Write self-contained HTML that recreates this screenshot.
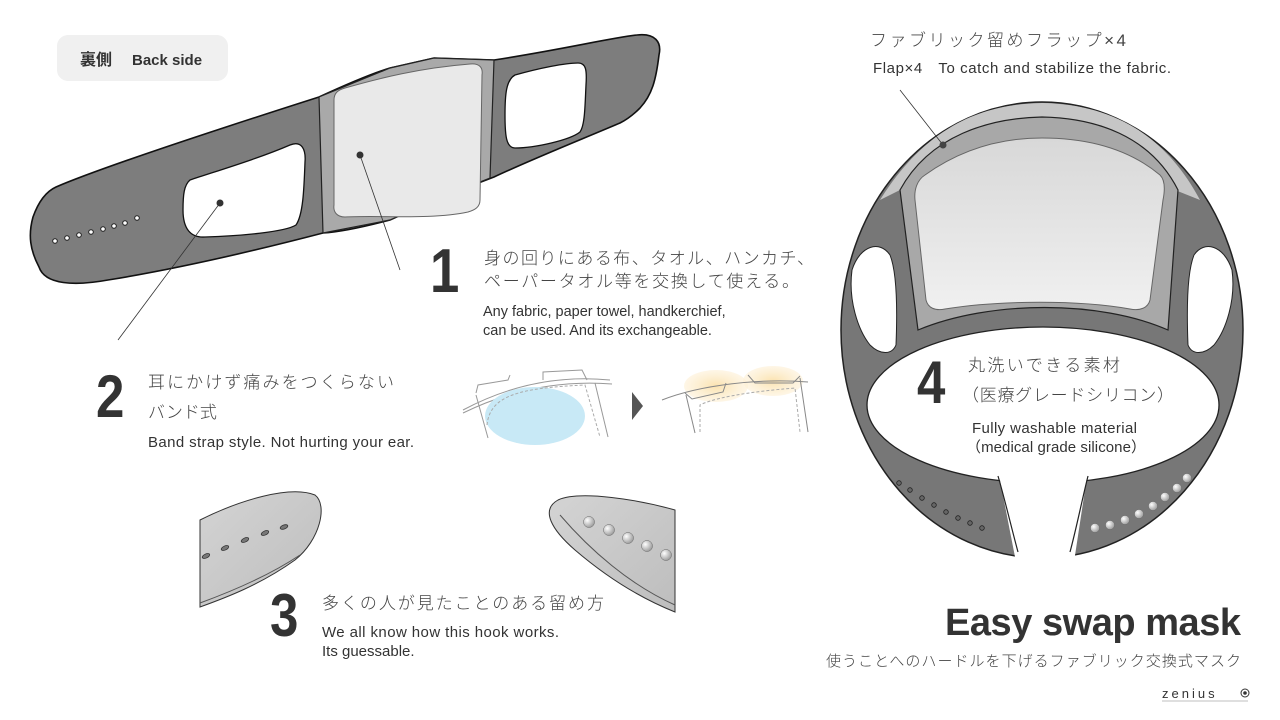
<!DOCTYPE html>
<html><head><meta charset="utf-8"><style>
html,body{margin:0;padding:0;background:#fff;}
svg{display:block;}
text{font-family:"Liberation Sans","Noto Sans CJK JP",sans-serif;fill:#333;}
.jp{font-weight:300;fill:#444;}
.num{font-weight:bold;fill:#333;}
</style></head><body>
<svg width="1280" height="720" viewBox="0 0 1280 720" xmlns="http://www.w3.org/2000/svg">
<defs>
<linearGradient id="fab" x1="0" y1="0" x2="0" y2="1"><stop offset="0" stop-color="#d8d8d8"/><stop offset="1" stop-color="#f0f0f0"/></linearGradient>
<linearGradient id="strap" x1="0" y1="0" x2="1" y2="1"><stop offset="0" stop-color="#d4d4d4"/><stop offset="1" stop-color="#bdbdbd"/></linearGradient>
<radialGradient id="ball" cx="0.35" cy="0.35" r="0.7"><stop offset="0" stop-color="#fff"/><stop offset="1" stop-color="#999"/></radialGradient>
<radialGradient id="yel"><stop offset="0" stop-color="#fbe3b0"/><stop offset="1" stop-color="#fdf0d6" stop-opacity="0.6"/></radialGradient>
</defs>

<!-- Badge -->
<rect x="57" y="35" width="171" height="46" rx="11" fill="#f0f0f0"/>
<text x="80" y="65" font-size="16" font-weight="bold">裏側</text>
<text x="132" y="65" font-size="15" font-weight="bold">Back side</text>

<!-- Flat mask -->
<path d="M56,187 C100,168 200,135 319,97 C345,85 370,74 390,68 L434,58 L494,60 C560,50 610,38 637,35 C655,33 662,42 659,55 C656,80 652,95 640,108 C630,118 622,122 620,123 C580,140 530,160 494,177 L434,200 L390,220 C360,228 340,232 323,233 C250,252 170,270 108,280 C75,286 45,285 39,267 C30,250 28,235 33,217 C38,203 45,192 56,187 Z" fill="#7d7d7d" stroke="#111" stroke-width="1.6"/>
<path d="M319,97 L390,68 L434,58 L494,60 L490,178 L434,200 L390,220 L323,233 Z" fill="#a9a9a9" stroke="#222" stroke-width="1.2"/>
<path d="M345,88 C380,78 420,68 470,64 C480,63 483,68 482,75 L480,200 C480,207 475,210 468,212 C430,220 380,215 345,217 C337,217 333,212 334,205 L334,100 C334,93 338,90 345,88 Z" fill="#e9e9e9" stroke="#666" stroke-width="1"/>
<path d="M190,180 C220,170 260,158 290,145 C302,140 306,150 305,162 C304,190 303,215 296,225 C285,232 240,236 205,237 C190,238 183,228 183,210 C183,195 184,185 190,180 Z" fill="#fff" stroke="#111" stroke-width="1.3"/>
<path d="M515,75 C540,68 565,63 578,63 C586,63 587,70 586,85 C585,105 585,125 580,132 C570,140 535,148 515,148 C506,148 505,135 505,115 C505,95 506,80 515,75 Z" fill="#fff" stroke="#111" stroke-width="1.3"/>
<g fill="#fff" stroke="#222" stroke-width="1">
<circle cx="55" cy="241" r="2.3"/><circle cx="67" cy="238" r="2.3"/><circle cx="79" cy="235" r="2.3"/><circle cx="91" cy="232" r="2.3"/><circle cx="103" cy="229" r="2.3"/><circle cx="114" cy="226" r="2.3"/><circle cx="125" cy="223" r="2.3"/><circle cx="137" cy="218" r="2.3"/>
</g>
<line x1="220" y1="203" x2="118" y2="340" stroke="#333" stroke-width="0.8"/>
<circle cx="220" cy="203" r="3.5" fill="#333"/>
<line x1="360" y1="155" x2="400" y2="270" stroke="#333" stroke-width="0.8"/>
<circle cx="360" cy="155" r="3.5" fill="#333"/>

<!-- Text 1 -->
<text class="num" x="430" y="292" font-size="62" transform="translate(430 0) scale(0.85 1) translate(-430 0)">1</text>
<text class="jp" x="484" y="264" font-size="17" textLength="330">身の回りにある布、タオル、ハンカチ、</text>
<text class="jp" x="484" y="287" font-size="17" textLength="315">ペーパータオル等を交換して使える。</text>
<text x="483" y="316" font-size="14.5" fill="#222">Any fabric, paper towel, handkerchief,</text>
<text x="483" y="335" font-size="14.5" fill="#222">can be used. And its exchangeable.</text>

<!-- Text 2 -->
<text class="num" x="96" y="417" font-size="60" transform="translate(96 0) scale(0.85 1) translate(-96 0)">2</text>
<text class="jp" x="148" y="388" font-size="17" textLength="246">耳にかけず痛みをつくらない</text>
<text class="jp" x="148" y="418" font-size="17">バンド式</text>
<text x="148" y="447" font-size="15" fill="#222" textLength="266">Band strap style. Not hurting your ear.</text>

<!-- Small illustrations -->
<g fill="none" stroke="#999" stroke-width="1">
<path d="M463,410 C510,385 560,375 610,380"/>
<path d="M463,413 C510,390 560,380 612,384"/>
<path d="M476,393 L478,385 L508,380 L510,375"/>
<path d="M543,380 L543,372 L582,370 L587,380"/>
<path d="M476,395 L488,438"/><path d="M595,383 L608,437"/>
</g>
<ellipse cx="535" cy="416" rx="50" ry="29" fill="#c8e9f6"/>
<path d="M487,425 C490,395 520,388 585,385 L600,437" fill="none" stroke="#aaa" stroke-dasharray="3,2"/>
<path d="M632,392 L643,406 L632,420 Z" fill="#555"/>
<ellipse cx="716" cy="386" rx="32" ry="16" fill="url(#yel)"/>
<ellipse cx="773" cy="381" rx="30" ry="15" fill="url(#yel)"/>
<g fill="none" stroke="#888" stroke-width="1">
<path d="M662,400 C700,385 760,378 808,382"/>
<path d="M685,393 L692,399 L723,392 L726,383"/>
<path d="M748,375 L755,383 L793,383 L800,376"/>
<path d="M686,395 L695,433"/><path d="M800,378 L808,432"/>
</g>
<path d="M700,432 L700,405 C720,395 770,390 795,388 L800,432" fill="none" stroke="#aaa" stroke-dasharray="3,2"/>

<!-- Strap ends -->
<path d="M200,520 C240,500 290,485 315,495 C328,505 320,540 295,560 C260,585 225,598 200,607 Z" fill="url(#strap)" stroke="#333" stroke-width="1"/>
<path d="M200,603 C230,592 270,575 300,555" fill="none" stroke="#555" stroke-width="1"/>
<g fill="#777" stroke="#333" stroke-width="0.8">
<ellipse cx="206" cy="556" rx="4" ry="2" transform="rotate(-25 206 556)"/>
<ellipse cx="225" cy="548" rx="4" ry="2" transform="rotate(-25 225 548)"/>
<ellipse cx="245" cy="540" rx="4" ry="2" transform="rotate(-25 245 540)"/>
<ellipse cx="265" cy="533" rx="4" ry="2" transform="rotate(-25 265 533)"/>
<ellipse cx="284" cy="527" rx="4" ry="2" transform="rotate(-20 284 527)"/>
</g>
<path d="M675,510 C640,500 580,490 558,500 C540,510 552,530 575,550 C610,580 645,600 675,612 Z" fill="url(#strap)" stroke="#333" stroke-width="1"/>
<path d="M560,515 C590,550 630,585 675,605" fill="none" stroke="#555" stroke-width="1"/>
<g fill="url(#ball)" stroke="#666" stroke-width="0.5">
<circle cx="589" cy="522" r="5.5"/><circle cx="609" cy="530" r="5.5"/><circle cx="628" cy="538" r="5.5"/><circle cx="647" cy="546" r="5.5"/><circle cx="666" cy="555" r="5.5"/>
</g>

<!-- Text 3 -->
<text class="num" x="270" y="636" font-size="60" transform="translate(270 0) scale(0.85 1) translate(-270 0)">3</text>
<text class="jp" x="322" y="609" font-size="17" textLength="282">多くの人が見たことのある留め方</text>
<text x="322" y="637" font-size="15" fill="#222" textLength="237">We all know how this hook works.</text>
<text x="322" y="656" font-size="15" fill="#222">Its guessable.</text>

<!-- Round mask -->
<ellipse cx="1042" cy="330" rx="201" ry="228" fill="#777" stroke="#222" stroke-width="1.5"/>
<path d="M880,200 C930,120 990,104 1042,103 C1100,104 1160,125 1200,200 L1175,190 C1150,140 1100,125 1042,124 C985,125 935,140 900,190 Z" fill="#c6c6c6"/>
<path d="M900,190 C930,135 990,118 1042,117 C1095,118 1150,135 1178,190 L1168,330 C1100,300 990,300 918,330 Z" fill="#a8a8a8" stroke="#222" stroke-width="1.2"/>
<path d="M925,175 C960,150 1000,138 1042,138 C1090,138 1130,150 1160,175 C1165,180 1165,190 1163,200 L1150,300 C1148,308 1140,311 1130,309 C1080,300 1000,300 945,309 C935,311 928,308 926,300 L915,200 C914,190 917,180 925,175 Z" fill="url(#fab)" stroke="#666" stroke-width="1"/>
<ellipse cx="1043" cy="405" rx="176" ry="78" fill="#fff" stroke="#222" stroke-width="1.3"/>
<path d="M998,470 L1088,470 L1074,562 L1016,562 Z" fill="#fff"/>
<path d="M998,476 C1005,500 1012,530 1018,552" fill="none" stroke="#222" stroke-width="1.2"/>
<path d="M1088,476 C1082,500 1076,530 1070,552" fill="none" stroke="#222" stroke-width="1.2"/>
<path d="M852,270 C860,245 880,240 890,255 C898,275 897,320 896,345 C892,355 880,355 870,345 C858,330 848,300 852,270 Z" fill="#fff" stroke="#222" stroke-width="1"/>
<path d="M1232,270 C1224,245 1204,240 1194,255 C1186,275 1187,320 1188,345 C1192,355 1204,355 1214,345 C1226,330 1236,300 1232,270 Z" fill="#fff" stroke="#222" stroke-width="1"/>
<g fill="#666" stroke="#222" stroke-width="0.8">
<circle cx="899" cy="483" r="2.3"/><circle cx="910" cy="490" r="2.3"/><circle cx="922" cy="498" r="2.3"/><circle cx="934" cy="505" r="2.3"/><circle cx="946" cy="512" r="2.3"/><circle cx="958" cy="518" r="2.3"/><circle cx="970" cy="523" r="2.3"/><circle cx="982" cy="528" r="2.3"/>
</g>
<g fill="url(#ball)" stroke="#666" stroke-width="0.4">
<circle cx="1095" cy="528" r="4.5"/><circle cx="1110" cy="525" r="4.5"/><circle cx="1125" cy="520" r="4.5"/><circle cx="1139" cy="514" r="4.5"/><circle cx="1153" cy="506" r="4.5"/><circle cx="1165" cy="497" r="4.5"/><circle cx="1177" cy="488" r="4.5"/><circle cx="1187" cy="478" r="4.5"/>
</g>
<line x1="900" y1="90" x2="943" y2="145" stroke="#333" stroke-width="0.8"/>
<circle cx="943" cy="145" r="3.5" fill="#444"/>

<!-- Text 4 -->
<text class="num" x="917" y="403" font-size="60" transform="translate(917 0) scale(0.85 1) translate(-917 0)">4</text>
<text class="jp" x="968" y="371" font-size="17" textLength="152">丸洗いできる素材</text>
<text class="jp" x="962" y="401" font-size="17" textLength="212">（医療グレードシリコン）</text>
<text x="972" y="433" font-size="15" fill="#222" textLength="165">Fully washable material</text>
<text x="966" y="452" font-size="15" fill="#222" textLength="180">（medical grade silicone）</text>

<!-- Top right label -->
<text class="jp" x="870" y="46" font-size="17" textLength="256">ファブリック留めフラップ×4</text>
<text x="873" y="73" font-size="15" fill="#222" textLength="298">Flap×4　To catch and stabilize the fabric.</text>

<!-- Title -->
<text x="945" y="635" font-size="38" font-weight="bold" textLength="296">Easy swap mask</text>
<text class="jp" x="826" y="666" font-size="15" textLength="415">使うことへのハードルを下げるファブリック交換式マスク</text>
<text x="1162" y="698" font-size="13" letter-spacing="3" fill="#222">zenius</text>
<line x1="1162" y1="701" x2="1248" y2="701" stroke="#aaa" stroke-width="0.8"/>
<circle cx="1245" cy="693" r="4" fill="none" stroke="#333" stroke-width="1"/><circle cx="1245" cy="693" r="1.8" fill="#333"/>
</svg>
</body></html>
